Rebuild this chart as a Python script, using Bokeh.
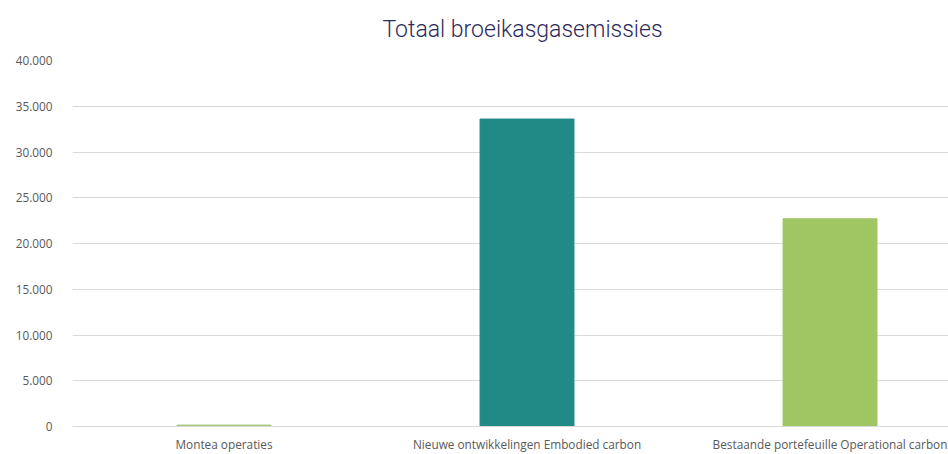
from bokeh.plotting import figure
from bokeh.models import Range1d, FixedTicker, CustomJSTickFormatter, ColumnDataSource, Title
from bokeh.embed import file_html
from bokeh.resources import INLINE

title_text = "Totaal broeikasgasemissies"
categories = ["Montea operaties", "Nieuwe ontwikkelingen Embodied carbon", "Bestaande portefeuille Operational carbon"]
values = [150, 33600, 22700]
colors = ["#9fc06a", "#218a87", "#a0c663"]
y_ticks = [0, 5000, 10000, 15000, 20000, 25000, 30000, 35000, 40000]

xs = [i + 0.5 for i in range(len(categories))]
src = ColumnDataSource(dict(x=xs, top=values, color=colors))

p = figure(width=948, height=454, output_backend="svg", toolbar_location=None,
           x_range=Range1d(0, 2.891), y_range=Range1d(0, 40000))
p.min_border_left = 72
p.min_border_right = 0
p.min_border_top = 60
p.min_border_bottom = 27
p.outline_line_color = None

p.vbar(x="x", top="top", width=0.31, color="color", source=src)

t = Title(text=title_text, align="left", offset=310, vertical_align="top",
          text_font="Roboto Light, Roboto", text_font_size="23px", text_font_style="normal",
          text_color="#2d2b5a", standoff=31)
p.add_layout(t, "above")

p.xaxis.ticker = FixedTicker(ticks=xs)
p.xaxis.major_label_overrides = {x: c for x, c in zip(xs, categories)}
p.xaxis.major_tick_line_color = None
p.xaxis.minor_tick_line_color = None
p.xaxis.axis_line_color = "#d9d9d9"
p.xaxis.major_label_text_font = "Open Sans"
p.xaxis.major_label_text_font_size = "11.8px"
p.xaxis.major_label_text_color = "#595959"
p.xaxis.major_label_standoff = 3

p.yaxis.ticker = FixedTicker(ticks=y_ticks)
p.yaxis.formatter = CustomJSTickFormatter(code="return Math.round(tick).toString().replace(/\\B(?=(\\d{3})+(?!\\d))/g, '.');")
p.yaxis.major_tick_line_color = None
p.yaxis.minor_tick_line_color = None
p.yaxis.axis_line_color = None
p.yaxis.major_label_text_font = "Open Sans"
p.yaxis.major_label_text_font_size = "11.8px"
p.yaxis.major_label_text_color = "#595959"
p.yaxis.major_label_standoff = 14

p.xgrid.grid_line_color = None
p.ygrid.grid_line_color = "#d9d9d9"
p.ygrid.grid_line_width = 1

open("out.html", "w").write(file_html(p, INLINE))
